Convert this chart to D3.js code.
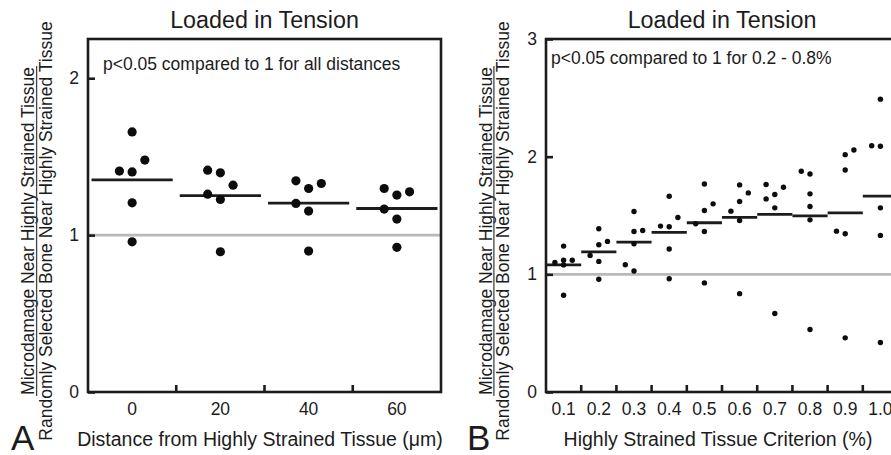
<!DOCTYPE html>
<html>
<head>
<meta charset="utf-8">
<script src="https://cdn.jsdelivr.net/npm/d3@7"></script>
<style>
  body { margin: 0; background: #fff; }
  svg { display: block; font-family: "Liberation Sans", Arial, sans-serif; }
</style>
</head>
<body>
<div id="chart"></div>
<script>
// panel A: distance from highly strained tissue
const distCats = ["0", "20", "40", "60"];
const distValues = [
    [1.658, 1.478, 1.408, 1.403, 1.206, 0.957],
    [1.414, 1.397, 1.318, 1.261, 1.227, 0.894],
    [1.346, 1.297, 1.329, 1.202, 1.153, 0.898],
    [1.297, 1.255, 1.276, 1.166, 1.102, 0.922]
];
// side-by-side slot of each dot (-1 left, 0 centre, 1 right)
const distSlots = [
    [0, 1, -1, 0, 0, 0],
    [-1, 0, 1, -1, 0, 0],
    [-1, 0, 1, -1, 0, 0],
    [-1, 0, 1, -1, 0, 0]
];
const distTicks = [0, 1, 2];

// panel B: highly strained tissue criterion
const critCats = ["0.1", "0.2", "0.3", "0.4", "0.5", "0.6", "0.7", "0.8", "0.9", "1.0"];
const critValues = [
    [1.240, 1.120, 1.120, 1.100, 1.080, 0.822],
    [1.387, 1.251, 1.280, 1.161, 1.110, 0.958],
    [1.534, 1.364, 1.373, 1.260, 1.082, 1.028],
    [1.664, 1.483, 1.410, 1.404, 1.215, 0.963],
    [1.768, 1.599, 1.542, 1.430, 1.364, 0.927],
    [1.760, 1.692, 1.619, 1.537, 1.458, 0.836],
    [1.763, 1.740, 1.678, 1.641, 1.565, 0.667],
    [1.876, 1.853, 1.684, 1.576, 1.463, 0.531],
    [2.017, 2.057, 1.887, 1.367, 1.345, 0.460],
    [2.489, 2.093, 2.088, 1.565, 1.331, 0.421]
];
const critSlots = [
    [0, 0, 1, -1, 0, 0],
    [0, 0, 1, -1, 0, 0],
    [0, 0, 1, 0, -1, 0],
    [0, 1, -1, 0, 0, 0],
    [0, 1, 0, -1, 0, 0],
    [0, 1, 0, -1, 0, 0],
    [-1, 1, 0, -1, 0, 0],
    [-1, 0, 0, 0, 0, 0],
    [0, 1, 0, -1, 0, 0],
    [0, -1, 0, 0, 0, 0]
];
const critTicks = [0, 1, 2, 3];

const W = 891, H = 455;
const svg = d3.select("#chart").append("svg")
    .attr("width", W).attr("height", H);

const ink = "#1c1c1c";

function drawPanel(opt) {
    const g = svg.append("g");
    const {left, right, top, bottom} = opt;

    const x = d3.scaleBand()
        .domain(opt.cats)
        .range([left, right]);
    const y = d3.scaleLinear()
        .domain([0, opt.yMax])
        .range([bottom, top]);

    // reference line at 1
    g.append("line")
        .attr("x1", left).attr("x2", right)
        .attr("y1", y(1)).attr("y2", y(1))
        .attr("stroke", "#b9b9b9").attr("stroke-width", 2.6);

    // frame
    g.append("rect")
        .attr("x", left).attr("y", top)
        .attr("width", right - left).attr("height", bottom - top)
        .attr("fill", "none").attr("stroke", ink).attr("stroke-width", 2.6);

    // y axis (inward ticks)
    const yAxis = g.append("g")
        .attr("transform", `translate(${left},0)`)
        .call(d3.axisLeft(y).tickValues(opt.yTicks).tickFormat(d3.format("d"))
            .tickSizeInner(-7).tickSizeOuter(0).tickPadding(9));
    yAxis.select(".domain").remove();
    yAxis.selectAll("line").attr("stroke", ink).attr("stroke-width", 2.6);
    yAxis.selectAll("text").attr("fill", ink).style("font-size", "17.5px");

    // x axis labels at band centres, ticks at band boundaries
    const xAxis = g.append("g")
        .attr("transform", `translate(0,${bottom})`)
        .call(d3.axisBottom(x).tickSize(0).tickPadding(11));
    xAxis.select(".domain").remove();
    xAxis.selectAll("text").attr("fill", ink).style("font-size", "17.5px");

    g.selectAll(".xtick")
        .data(opt.cats.slice(1))
        .join("line")
        .attr("class", "xtick")
        .attr("x1", d => x(d)).attr("x2", d => x(d))
        .attr("y1", bottom).attr("y2", bottom - 7)
        .attr("stroke", ink).attr("stroke-width", 2.6);

    // mean lines
    const means = opt.values.map(v => d3.mean(v));
    const half = x.bandwidth() * opt.meanSpan / 2;
    g.selectAll(".mean")
        .data(opt.cats)
        .join("line")
        .attr("class", "mean")
        .attr("x1", d => x(d) + x.bandwidth() / 2 - half)
        .attr("x2", d => x(d) + x.bandwidth() / 2 + half)
        .attr("y1", (d, i) => y(means[i]))
        .attr("y2", (d, i) => y(means[i]))
        .attr("stroke", ink).attr("stroke-width", 2.8);

    // dots
    const pts = [];
    opt.cats.forEach((c, i) => {
        opt.values[i].forEach((v, j) => pts.push({c, v, s: opt.slots[i][j]}));
    });
    g.selectAll(".dot")
        .data(pts)
        .join("circle")
        .attr("class", "dot")
        .attr("cx", d => x(d.c) + x.bandwidth() / 2 + d.s * opt.dodge)
        .attr("cy", d => y(d.v))
        .attr("r", opt.r)
        .attr("fill", "#0c0c0c");

    // title
    g.append("text")
        .attr("x", (left + right) / 2).attr("y", 28)
        .attr("text-anchor", "middle")
        .attr("fill", ink)
        .style("font-size", "23.3px")
        .text("Loaded in Tension");

    // p-value note
    g.append("text")
        .attr("x", opt.noteX).attr("y", opt.noteY)
        .attr("fill", ink)
        .style("font-size", "17.5px")
        .text(opt.note);

    // x title
    g.append("text")
        .attr("x", opt.xTitleX).attr("y", 446)
        .attr("text-anchor", "middle")
        .attr("fill", ink)
        .style("font-size", "19.5px")
        .text(opt.xTitle);

    // panel letter
    g.append("text")
        .attr("x", opt.letterX).attr("y", 450)
        .attr("fill", ink)
        .style("font-size", "35px")
        .text(opt.letter);

    // y title as a fraction
    const cy = 231;
    const yt = g.append("g");
    yt.append("text")
        .attr("transform", `translate(${opt.yTitleX},${cy}) rotate(-90)`)
        .attr("text-anchor", "middle")
        .attr("fill", ink)
        .style("font-size", "17.5px")
        .text("Microdamage Near Highly Strained Tissue");
    yt.append("line")
        .attr("x1", opt.yTitleX + 2.4).attr("x2", opt.yTitleX + 2.4)
        .attr("y1", cy - 165).attr("y2", cy + 165)
        .attr("stroke", "#444").attr("stroke-width", 1.3);
    yt.append("text")
        .attr("transform", `translate(${opt.yTitleX + 17.6},${cy}) rotate(-90)`)
        .attr("text-anchor", "middle")
        .attr("fill", ink)
        .style("font-size", "17.5px")
        .text("Randomly Selected Bone Near Highly Strained Tissue");
}

drawPanel({
    cats: distCats, values: distValues, slots: distSlots,
    yMax: 2.25, yTicks: distTicks,
    left: 88, right: 441, top: 39, bottom: 392,
    meanSpan: 0.92, dodge: 12.7, r: 4.6,
    note: "p<0.05 compared to 1 for all distances", noteX: 103, noteY: 70,
    xTitle: "Distance from Highly Strained Tissue (\u03bcm)", xTitleX: 260,
    letter: "A", letterX: 11, yTitleX: 34.2
});

drawPanel({
    cats: critCats, values: critValues, slots: critSlots,
    yMax: 3, yTicks: critTicks,
    left: 546, right: 898, top: 39, bottom: 392,
    meanSpan: 1.0, dodge: 8.7, r: 2.7,
    note: "p<0.05 compared to 1 for 0.2 - 0.8%", noteX: 551, noteY: 64,
    xTitle: "Highly Strained Tissue Criterion (%)", xTitleX: 718,
    letter: "B", letterX: 467, yTitleX: 491.5
});
</script>
</body>
</html>
